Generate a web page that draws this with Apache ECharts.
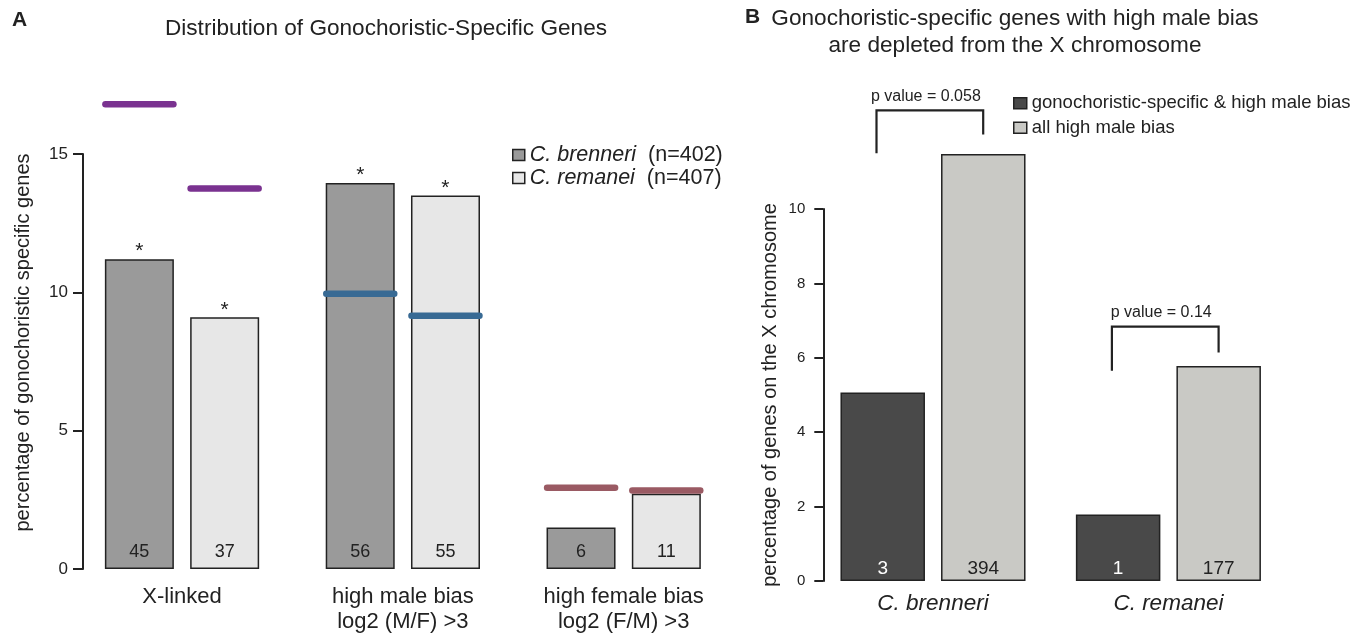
<!DOCTYPE html>
<html>
<head>
<meta charset="utf-8">
<title>Gonochoristic-specific genes</title>
<script src="https://cdn.jsdelivr.net/npm/echarts@6/dist/echarts.min.js"></script>
<style>
html,body{margin:0;padding:0;background:#fff}
#chart{width:1363px;height:634px}
</style>
</head>
<body>
<div id="chart"></div>
<script>
// ---- panel A data
var catsA = ['X-linked', 'high male bias\nlog2 (M/F) >3', 'high female bias\nlog2 (F/M) >3'];
var speciesA = ['C. brenneri', 'C. remanei'];
var speciesN = [402, 407];
var pctBrenneri = [11.2, 13.95, 1.5];
var pctRemanei = [9.1, 13.5, 2.72];
var cntBrenneri = [45, 56, 6];
var cntRemanei = [37, 55, 11];
var expBrenneri = [16.8, 9.95, 2.94];   // expected % (coloured bars)
var expRemanei = [13.75, 9.15, 2.84];
var starBrenneri = ['*', '*', ''];
var starRemanei = ['*', '*', ''];

// ---- panel B data
var catsB = ['C. brenneri', 'C. remanei'];
var groupsB = ['gonochoristic-specific & high male bias', 'all high male bias'];
var pctGono = [5.07, 1.79];
var pctAll = [11.48, 5.78];
var cntGono = [3, 1];
var cntAll = [394, 177];
var pLabels = ['p value = 0.058', 'p value = 0.14'];
var bracketLeft = [11.5, 5.65];
var bracketRight = [12.0, 6.14];
var bracketTop = [12.65, 6.84];

var refColors = ['#7a3290', '#386a94', '#9a5a63'];
var ink = '#222';

var myChart = echarts.init(document.getElementById('chart'));

function refItem(side, stars) {
  return function (params, api) {
    var cat = api.value(0);
    var top = api.coord([cat, api.value(1)]);
    var ref = api.coord([cat, api.value(2)]);
    var x = top[0] + side * 42.6;
    return {
      type: 'group',
      children: [{
        type: 'line',
        shape: {x1: x - 34, y1: ref[1], x2: x + 34, y2: ref[1]},
        style: {stroke: refColors[cat], lineWidth: 6.5, lineCap: 'round'}
      }, {
        type: 'text',
        x: x, y: top[1] + 3,
        style: {text: stars[cat], fill: ink, fontSize: 21, align: 'center', verticalAlign: 'bottom',
          fontFamily: 'Liberation Sans'}
      }]
    };
  };
}

function bracketItem(params, api) {
  var cat = api.value(0);
  var l = api.coord([cat, api.value(1)]);
  var r = api.coord([cat, api.value(2)]);
  var t = api.coord([cat, api.value(3)]);
  var xl = l[0] - 56.5, xr = l[0] + 50.2;
  return {
    type: 'group',
    children: [{
      type: 'polyline',
      shape: {points: [[xl, l[1]], [xl, t[1]], [xr, t[1]], [xr, r[1]]]},
      style: {stroke: ink, lineWidth: 2.2, fill: null}
    }, {
      type: 'text',
      x: (xl + xr) / 2 - 4, y: t[1] - 14,
      style: {text: pLabels[cat], fill: ink, fontSize: 16, align: 'center', verticalAlign: 'middle',
        fontFamily: 'Liberation Sans'}
    }]
  };
}

var option = {
  animation: false,
  textStyle: {fontFamily: 'Liberation Sans, Arial, sans-serif'},
  title: [
    {text: 'A', left: 12, top: 10, padding: 0, textStyle: {fontSize: 21, fontWeight: 'bold', color: ink}},
    {text: 'Distribution of Gonochoristic-Specific Genes', left: 386, top: 17, padding: 0, textAlign: 'center',
      textStyle: {fontSize: 22.6, fontWeight: 'normal', color: ink}},
    {text: 'B', left: 745, top: 7, padding: 0, textStyle: {fontSize: 21, fontWeight: 'bold', color: ink}},
    {text: 'Gonochoristic-specific genes with high male bias\nare depleted from the X chromosome',
      left: 1015, top: 5, padding: 0, textAlign: 'center',
      textStyle: {fontSize: 22.6, lineHeight: 27, fontWeight: 'normal', color: ink}}
  ],
  legend: [{
    data: speciesA,
    orient: 'vertical', left: 507, top: 139,
    itemWidth: 12, itemHeight: 11, itemGap: 1,
    selectedMode: false,
    icon: 'rect',
    itemStyle: {borderColor: ink, borderWidth: 1.5},
    formatter: function (name) {
      return '{i|' + name + '}  (n=' + speciesN[speciesA.indexOf(name)] + ')';
    },
    textStyle: {fontSize: 21.5, lineHeight: 22, color: ink,
      rich: {i: {fontStyle: 'italic', fontSize: 21.5, color: ink}}}
  }, {
    data: groupsB,
    orient: 'vertical', left: 1008, top: 88,
    itemWidth: 13, itemHeight: 11, itemGap: 4,
    selectedMode: false,
    icon: 'rect',
    itemStyle: {borderColor: ink, borderWidth: 1.5},
    textStyle: {fontSize: 18.5, lineHeight: 20.5, color: ink}
  }],
  grid: [
    {left: 71.6, top: 154, width: 662.5, height: 417.7},
    {left: 815.3, top: 209, width: 470.8, height: 372}
  ],
  xAxis: [{
    type: 'category', gridIndex: 0, data: catsA,
    axisLine: {show: false}, axisTick: {show: false},
    axisLabel: {fontSize: 22, lineHeight: 25, margin: 15, color: ink}
  }, {
    type: 'category', gridIndex: 1, data: catsB,
    axisLine: {show: false}, axisTick: {show: false},
    axisLabel: {fontSize: 22.5, fontStyle: 'italic', margin: 11, color: ink}
  }],
  yAxis: [{
    type: 'value', gridIndex: 0, min: 0, max: 15, interval: 5, offset: -11.4,
    name: 'percentage of gonochoristic specific genes',
    nameLocation: 'middle', nameGap: 50,
    nameTextStyle: {fontSize: 20, color: ink, padding: [0, 0, 0, 38]},
    axisLine: {show: true, lineStyle: {color: ink, width: 2}},
    axisTick: {show: true, length: 10, lineStyle: {color: ink, width: 2}},
    axisLabel: {fontSize: 17, margin: 15, color: ink},
    splitLine: {show: false}
  }, {
    type: 'value', gridIndex: 1, min: 0, max: 10, interval: 2, offset: -8,
    name: 'percentage of genes on the X chromosome',
    nameLocation: 'middle', nameGap: 43,
    nameTextStyle: {fontSize: 20, color: ink},
    axisLine: {show: true, lineStyle: {color: ink, width: 2}},
    axisTick: {show: true, length: 9, lineStyle: {color: ink, width: 2}},
    axisLabel: {fontSize: 15, margin: 18, color: ink},
    splitLine: {show: false}
  }],
  series: [{
    name: speciesA[0], type: 'bar', xAxisIndex: 0, yAxisIndex: 0,
    barWidth: 69, barGap: '23.6%', clip: false,
    itemStyle: {color: '#9a9a9a', borderColor: ink, borderWidth: 1.5},
    label: {show: true, position: 'insideBottom', distance: 8, fontSize: 18, color: ink,
      formatter: function (p) { return cntBrenneri[p.dataIndex]; }},
    data: pctBrenneri
  }, {
    name: speciesA[1], type: 'bar', xAxisIndex: 0, yAxisIndex: 0,
    barWidth: 69, barGap: '23.6%', clip: false,
    itemStyle: {color: '#e7e7e7', borderColor: ink, borderWidth: 1.5},
    label: {show: true, position: 'insideBottom', distance: 8, fontSize: 18, color: ink,
      formatter: function (p) { return cntRemanei[p.dataIndex]; }},
    data: pctRemanei
  }, {
    type: 'custom', xAxisIndex: 0, yAxisIndex: 0, z: 5,
    renderItem: refItem(-1, starBrenneri),
    data: catsA.map(function (c, i) { return [i, pctBrenneri[i], expBrenneri[i]]; })
  }, {
    type: 'custom', xAxisIndex: 0, yAxisIndex: 0, z: 5,
    renderItem: refItem(1, starRemanei),
    data: catsA.map(function (c, i) { return [i, pctRemanei[i], expRemanei[i]]; })
  }, {
    name: groupsB[0], type: 'bar', xAxisIndex: 1, yAxisIndex: 1,
    barWidth: 84.5, barGap: '19%', clip: false,
    itemStyle: {color: '#494949', borderColor: ink, borderWidth: 1.5},
    label: {show: true, position: 'insideBottom', distance: 3, fontSize: 19, color: '#fff',
      formatter: function (p) { return cntGono[p.dataIndex]; }},
    data: pctGono
  }, {
    name: groupsB[1], type: 'bar', xAxisIndex: 1, yAxisIndex: 1,
    barWidth: 84.5, barGap: '19%', clip: false,
    itemStyle: {color: '#c9c9c5', borderColor: ink, borderWidth: 1.5},
    label: {show: true, position: 'insideBottom', distance: 3, fontSize: 19, color: ink,
      formatter: function (p) { return cntAll[p.dataIndex]; }},
    data: pctAll
  }, {
    type: 'custom', xAxisIndex: 1, yAxisIndex: 1, z: 5,
    renderItem: bracketItem,
    data: catsB.map(function (c, i) { return [i, bracketLeft[i], bracketRight[i], bracketTop[i]]; })
  }]
};

myChart.setOption(option);
window.addEventListener('resize', function () {
  myChart.resize();
});
</script>
</body>
</html>
